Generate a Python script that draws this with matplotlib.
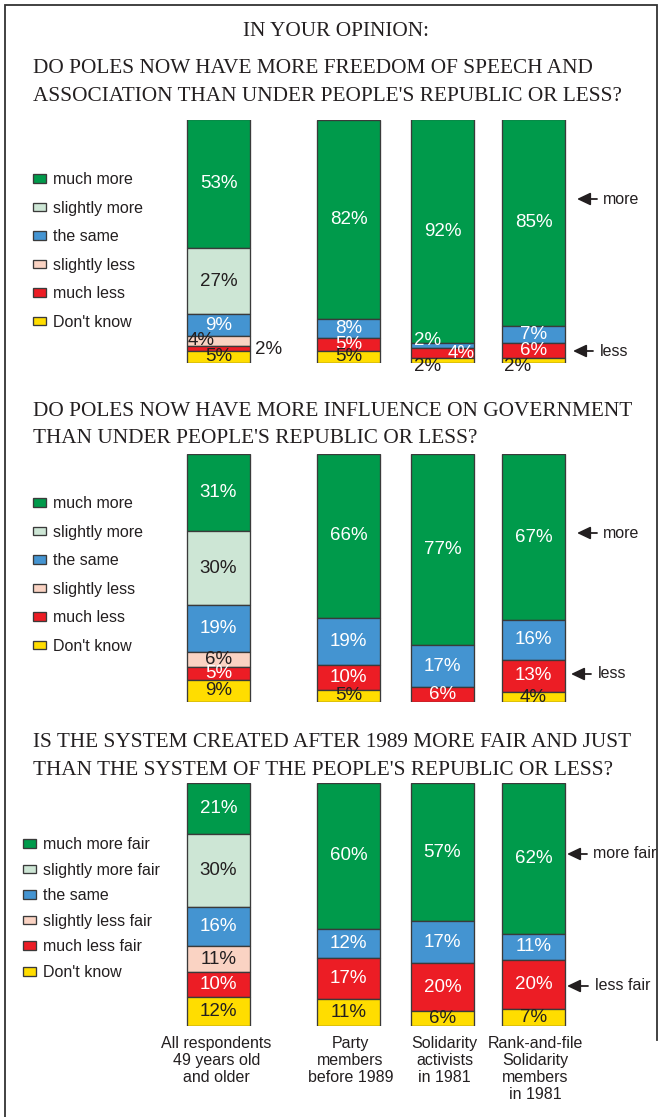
import numpy as np
import matplotlib
matplotlib.use("Agg")
import matplotlib.pyplot as plt

W, H = 661, 1117

groups = ["All respondents\n49 years old\nand older", "Party\nmembers\nbefore 1989",
          "Solidarity\nactivists\nin 1981", "Rank-and-file\nSolidarity\nmembers\nin 1981"]

# answers, listed from bottom of the bar to the top
speech_dont_know = [5, 5, 2, 2]
speech_much_less = [2, 5, 4, 6]
speech_slightly_less = [4, 0, 0, 0]
speech_same = [9, 8, 2, 7]
speech_slightly_more = [27, 0, 0, 0]
speech_much_more = [53, 82, 92, 85]

influence_dont_know = [9, 5, 0, 4]
influence_much_less = [5, 10, 6, 13]
influence_slightly_less = [6, 0, 0, 0]
influence_same = [19, 19, 17, 16]
influence_slightly_more = [30, 0, 0, 0]
influence_much_more = [31, 66, 77, 67]

fair_dont_know = [12, 11, 6, 7]
fair_much_less = [10, 17, 20, 20]
fair_slightly_less = [11, 0, 0, 0]
fair_same = [16, 12, 17, 11]
fair_slightly_more = [30, 0, 0, 0]
fair_much_more = [21, 60, 57, 62]

answers = ["much more", "slightly more", "the same", "slightly less", "much less", "Don't know"]
answers_fair = ["much more fair", "slightly more fair", "the same", "slightly less fair",
                "much less fair", "Don't know"]

titles = [
    "DO POLES NOW HAVE MORE FREEDOM OF SPEECH AND\nASSOCIATION THAN UNDER PEOPLE'S REPUBLIC OR LESS?",
    "DO POLES NOW HAVE MORE INFLUENCE ON GOVERNMENT\nTHAN UNDER PEOPLE'S REPUBLIC OR LESS?",
    "IS THE SYSTEM CREATED AFTER 1989 MORE FAIR AND JUST\nTHAN THE SYSTEM OF THE PEOPLE'S REPUBLIC OR LESS?",
]

colors = ["#009A4B", "#CDE6D5", "#4494D1", "#FAD3C3", "#EC1D25", "#FFDD00"]
light_text = [True, False, True, False, True, False]
DARK = "#231F20"
EDGE = "#3A3A3A"
SANS = "Liberation Sans"
SERIF = "Liberation Serif"

# layout in pixels
bar_x = [218.5, 348.5, 442.5, 533.5]
bar_w = 63
panel_top = [119.5, 454, 782.7]
panel_bot = [362.7, 702, 1026]
title_y = [82.5, 425, 756.5]
legend_pos = [(33, 178, 28.4), (33, 502, 28.4), (23, 843, 25.4)]
more_less = [
    [("more", 577, 597, 603, 199), ("less", 573, 593, 600, 351)],
    [("more", 577, 597, 603, 533), ("less", 571, 591, 598, 674)],
    [("more fair", 567, 587, 593, 854), ("less fair", 567, 588, 595, 986)],
]

panels = [
    [speech_much_more, speech_slightly_more, speech_same, speech_slightly_less,
     speech_much_less, speech_dont_know],
    [influence_much_more, influence_slightly_more, influence_same, influence_slightly_less,
     influence_much_less, influence_dont_know],
    [fair_much_more, fair_slightly_more, fair_same, fair_slightly_less,
     fair_much_less, fair_dont_know],
]

# labels on thin segments that are moved aside: (panel, bar, answer) -> dx, dy px, ha, dark text
label_moves = {
    (0, 0, 3): (-17, 0, "center", True),
    (0, 0, 4): (36, 1, "left", True),
    (0, 2, 2): (-15, -5, "center", False),
    (0, 2, 4): (19, 1, "center", False),
    (0, 2, 5): (-15, 6, "center", True),
    (0, 3, 5): (-16, 6, "center", True),
}

fig = plt.figure(figsize=(W / 100, H / 100), dpi=100)

canvas = fig.add_axes([0, 0, 1, 1])
canvas.set_xlim(0, W)
canvas.set_ylim(H, 0)
canvas.axis("off")

# frame around the figure
canvas.plot([5, 5, 657, 657], [1117, 4.5, 4.5, 1040], color="#333333", lw=1.3,
            solid_joinstyle="miter")

canvas.text(336, 31, "IN YOUR OPINION:", family=SERIF, fontsize=15.3, color=DARK,
            ha="center", va="center")

for p, rows in enumerate(panels):
    top, bot = panel_top[p], panel_bot[p]
    ax = fig.add_axes([0, 1 - bot / H, 1, (bot - top) / H])
    ax.set_xlim(0, W)
    ax.set_ylim(0, 100)
    ax.axis("off")

    canvas.text(33, title_y[p], titles[p], family=SERIF, fontsize=15.3, color=DARK,
                ha="left", va="center", linespacing=1.6)

    labels = answers_fair if p == 2 else answers
    vals = np.array(rows, dtype=float)
    # stack from the bottom (Don't know) upwards
    bottoms = np.cumsum(vals[::-1], axis=0)[::-1] - vals
    handles = []
    for k in range(len(rows)):
        bars = ax.bar(bar_x, vals[k], bottom=bottoms[k], width=bar_w, color=colors[k],
                      edgecolor=EDGE, linewidth=0.95, label=labels[k])
        handles.append(bars.patches[0])
        for b, patch in enumerate(bars.patches):
            v = vals[k][b]
            if v == 0:
                patch.set_visible(False)
                continue
            dx, dy, ha, dark = 0, 0, "center", not light_text[k]
            if (p, b, k) in label_moves:
                dx, dy, ha, dark = label_moves[(p, b, k)]
            ax.annotate(f"{int(v)}%", xy=(bar_x[b], bottoms[k][b] + v / 2),
                        xytext=(dx * 0.72, -dy * 0.72), textcoords="offset points",
                        ha=ha, va="center", family=SANS, fontsize=13.5,
                        color=DARK if dark else "white")

    lx, ly, pitch = legend_pos[p]
    ax.legend(handles=handles, labels=labels, loc="upper left",
              bbox_to_anchor=(lx / W, 1 - (ly - 6) / H), bbox_transform=fig.transFigure,
              frameon=False, borderpad=0, borderaxespad=0, handlelength=0.8,
              handleheight=0.45, handletextpad=0.45,
              labelspacing=(pitch - 14.8) / 16,
              prop={"family": SANS, "size": 11.5}, labelcolor=DARK)

    for text, tip, tail, tx, ty in more_less[p]:
        canvas.annotate("", xy=(tip, ty), xytext=(tail, ty),
                        arrowprops=dict(arrowstyle="-|>,head_length=0.8,head_width=0.38",
                                        color=DARK, lw=1.3, shrinkA=0, shrinkB=0))
        canvas.text(tx, ty, text, family=SANS, fontsize=11.5, color=DARK,
                    ha="left", va="center")

for b, name in enumerate(groups):
    canvas.text(bar_x[b] - 2 if b == 0 else bar_x[b] + 2, 1036, name, family=SANS,
                fontsize=11.5, color=DARK, ha="center", va="top", linespacing=1.18)

fig.savefig("out.png", dpi=100)
